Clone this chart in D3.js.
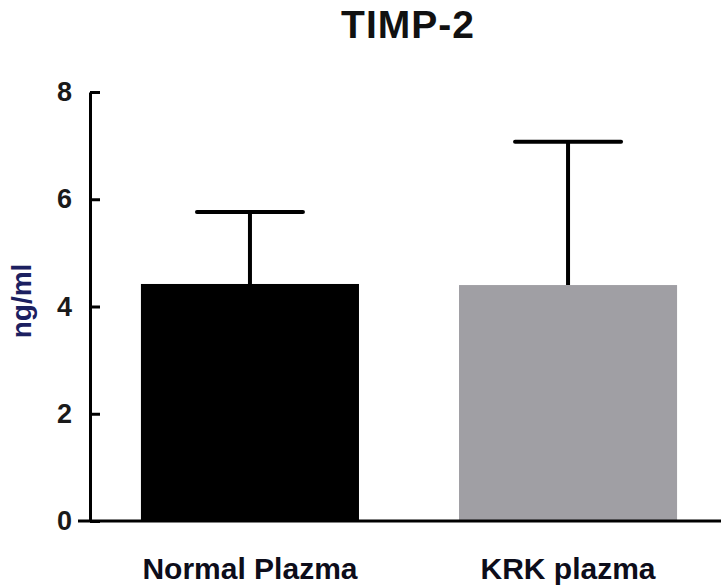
<!DOCTYPE html>
<html>
<head>
<meta charset="utf-8">
<script src="https://cdn.jsdelivr.net/npm/d3@7"></script>
<style>
  body { margin: 0; background: #fff; }
  svg { display: block; font-family: 'Liberation Sans', Arial, sans-serif; }
</style>
</head>
<body>
<div class="chart"></div>
<script>
var groups = ['Normal Plazma', 'KRK plazma'];
var means = [4.42, 4.40];
var errors = [1.34, 2.67];
var barColors = ['#000000', '#a09fa4'];
var yTicks = [0, 2, 4, 6, 8];

var svgWidth = 721;
var svgHeight = 588;

var svg = d3.select('.chart')
  .append('svg')
  .attr('width', svgWidth)
  .attr('height', svgHeight);

var data = groups.map(function(g, i) {
  return { group: g, mean: means[i], err: errors[i], color: barColors[i] };
});

var y = d3.scaleLinear().domain([0, 8]).range([521, 92]);
var x = d3.scaleBand()
  .domain(groups)
  .range([91, 727])
  .paddingInner(0.3145)
  .paddingOuter(0.157);

// bars
svg.selectAll('rect.bar')
  .data(data)
  .enter()
  .append('rect')
  .attr('class', 'bar')
  .attr('x', function(d) { return x(d.group); })
  .attr('width', x.bandwidth())
  .attr('y', function(d) { return y(d.mean); })
  .attr('height', function(d) { return y(0) - y(d.mean); })
  .attr('fill', function(d) { return d.color; });

// error bars (upper only)
var capHalf = 53;
var eb = svg.selectAll('g.err')
  .data(data)
  .enter()
  .append('g')
  .attr('class', 'err')
  .attr('stroke', '#000')
  .attr('stroke-width', 4);

eb.append('line')
  .attr('x1', function(d) { return x(d.group) + x.bandwidth() / 2; })
  .attr('x2', function(d) { return x(d.group) + x.bandwidth() / 2; })
  .attr('y1', function(d) { return y(d.mean); })
  .attr('y2', function(d) { return y(d.mean + d.err); });

eb.append('line')
  .attr('stroke-linecap', 'round')
  .attr('x1', function(d) { return x(d.group) + x.bandwidth() / 2 - capHalf; })
  .attr('x2', function(d) { return x(d.group) + x.bandwidth() / 2 + capHalf; })
  .attr('y1', function(d) { return y(d.mean + d.err); })
  .attr('y2', function(d) { return y(d.mean + d.err); });

// y axis
var left = d3.axisLeft(y)
  .tickValues(yTicks)
  .tickSizeInner(-10)
  .tickSizeOuter(0)
  .tickPadding(18);

var yAxis = svg.append('g')
  .attr('class', 'y_axis')
  .attr('transform', 'translate(90,0)')
  .call(left);

yAxis.select('.domain').attr('stroke', '#000').attr('stroke-width', 3);
yAxis.selectAll('.tick line').attr('stroke', '#000').attr('stroke-width', 3);
yAxis.selectAll('.tick text')
  .attr('fill', '#1a1a1a')
  .style('font-size', '27px')
  .style('font-weight', 'bold')
  .style('font-family', "'Liberation Sans', Arial, sans-serif");

// x axis baseline
svg.append('line')
  .attr('x1', 78)
  .attr('x2', svgWidth)
  .attr('y1', y(0))
  .attr('y2', y(0))
  .attr('stroke', '#000')
  .attr('stroke-width', 3);

var bottom = d3.axisBottom(x).tickSize(0).tickPadding(37);
var xAxis = svg.append('g')
  .attr('class', 'x_axis')
  .attr('transform', 'translate(0,' + y(0) + ')')
  .call(bottom);
xAxis.select('.domain').remove();
xAxis.selectAll('.tick text')
  .attr('fill', '#0d0d1a')
  .style('font-size', '30px')
  .style('font-weight', 'bold')
  .style('font-family', "'Liberation Sans', Arial, sans-serif");

// y label
svg.append('text')
  .attr('transform', 'translate(31,301) rotate(-90)')
  .attr('text-anchor', 'middle')
  .attr('fill', '#1c2060')
  .style('font-size', '28px')
  .style('font-weight', 'bold')
  .text('ng/ml');

// title
svg.append('text')
  .attr('x', 408)
  .attr('y', 38)
  .attr('text-anchor', 'middle')
  .attr('fill', '#111')
  .style('font-size', '39px')
  .style('font-weight', 'bold')
  .style('letter-spacing', '1px')
  .text('TIMP-2');
</script>
</body>
</html>
